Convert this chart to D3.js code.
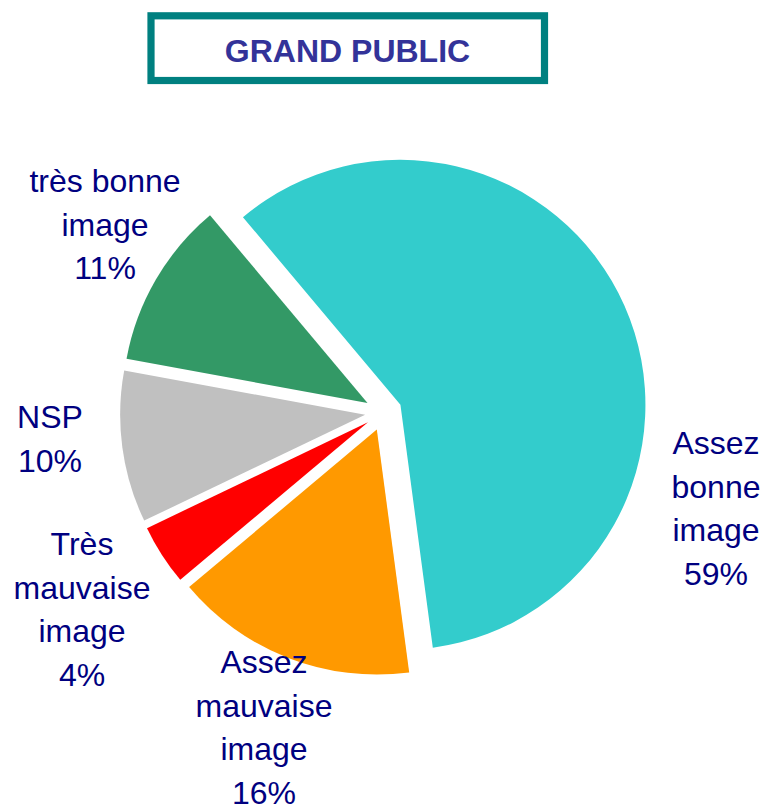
<!DOCTYPE html>
<html>
<head>
<meta charset="utf-8">
<script src="https://cdn.jsdelivr.net/npm/d3@7/dist/d3.min.js"></script>
<style>
  html, body { margin: 0; padding: 0; background: #ffffff; }
  svg { display: block; }
</style>
</head>
<body>
<svg id="chart" width="767" height="807"></svg>
<script>
// ---- data ----
const title = "GRAND PUBLIC";
const categories = ["Assez bonne image", "Assez mauvaise image", "Très mauvaise image", "NSP", "très bonne image"];
const values = [59, 16, 4, 10, 11];
const labelLines = [
  ["Assez", "bonne", "image"],
  ["Assez", "mauvaise", "image"],
  ["Très", "mauvaise", "image"],
  ["NSP"],
  ["très bonne", "image"]
];
const colors = ["#33CCCC", "#FF9900", "#FF0000", "#C0C0C0", "#339966"];

// ---- layout (not data) ----
const cx = 383.5, cy = 412.3, radius = 245, explode = 18.5;
const startDeg = -40.0;
const lineH = 43.6;
// label anchor: centre x, baseline of first line
const labelAnchor = [
  {x: 716, y: 454},
  {x: 264, y: 673},
  {x: 82, y: 555},
  {x: 50, y: 428},
  {x: 105, y: 192}
];

const svg = d3.select("#chart");

// title box
svg.append("rect")
  .attr("x", 151).attr("y", 15.8)
  .attr("width", 393.5).attr("height", 64.7)
  .attr("fill", "#ffffff")
  .attr("stroke", "#008080")
  .attr("stroke-width", 7.2);
svg.append("text")
  .attr("x", 347.5).attr("y", 62)
  .attr("text-anchor", "middle")
  .attr("font-family", "'Liberation Sans', Arial, sans-serif")
  .attr("font-weight", "bold")
  .attr("font-size", 32)
  .attr("fill", "#333399")
  .text(title);

// pie
const pie = d3.pie().sort(null).value(d => d)
  .startAngle(startDeg * Math.PI / 180)
  .endAngle((startDeg + 360) * Math.PI / 180);
const arcs = pie(values);
const arcGen = d3.arc().innerRadius(0).outerRadius(radius);

const g = svg.append("g").attr("transform", `translate(${cx},${cy})`);
g.selectAll("path")
  .data(arcs)
  .join("path")
  .attr("d", arcGen)
  .attr("fill", (d, i) => colors[i])
  .attr("transform", d => {
    const mid = (d.startAngle + d.endAngle) / 2;
    return `translate(${explode * Math.sin(mid)},${-explode * Math.cos(mid)})`;
  });

// labels
const lbl = svg.append("g")
  .attr("font-family", "'Liberation Sans', Arial, sans-serif")
  .attr("font-size", 32)
  .attr("fill", "#000080")
  .attr("text-anchor", "middle");

categories.forEach((c, i) => {
  const lines = labelLines[i].concat([values[i] + "%"]);
  const t = lbl.append("text")
    .attr("x", labelAnchor[i].x)
    .attr("y", labelAnchor[i].y);
  lines.forEach((ln, j) => {
    t.append("tspan")
      .attr("x", labelAnchor[i].x)
      .attr("dy", j === 0 ? 0 : lineH)
      .text(ln);
  });
});
</script>
</body>
</html>
